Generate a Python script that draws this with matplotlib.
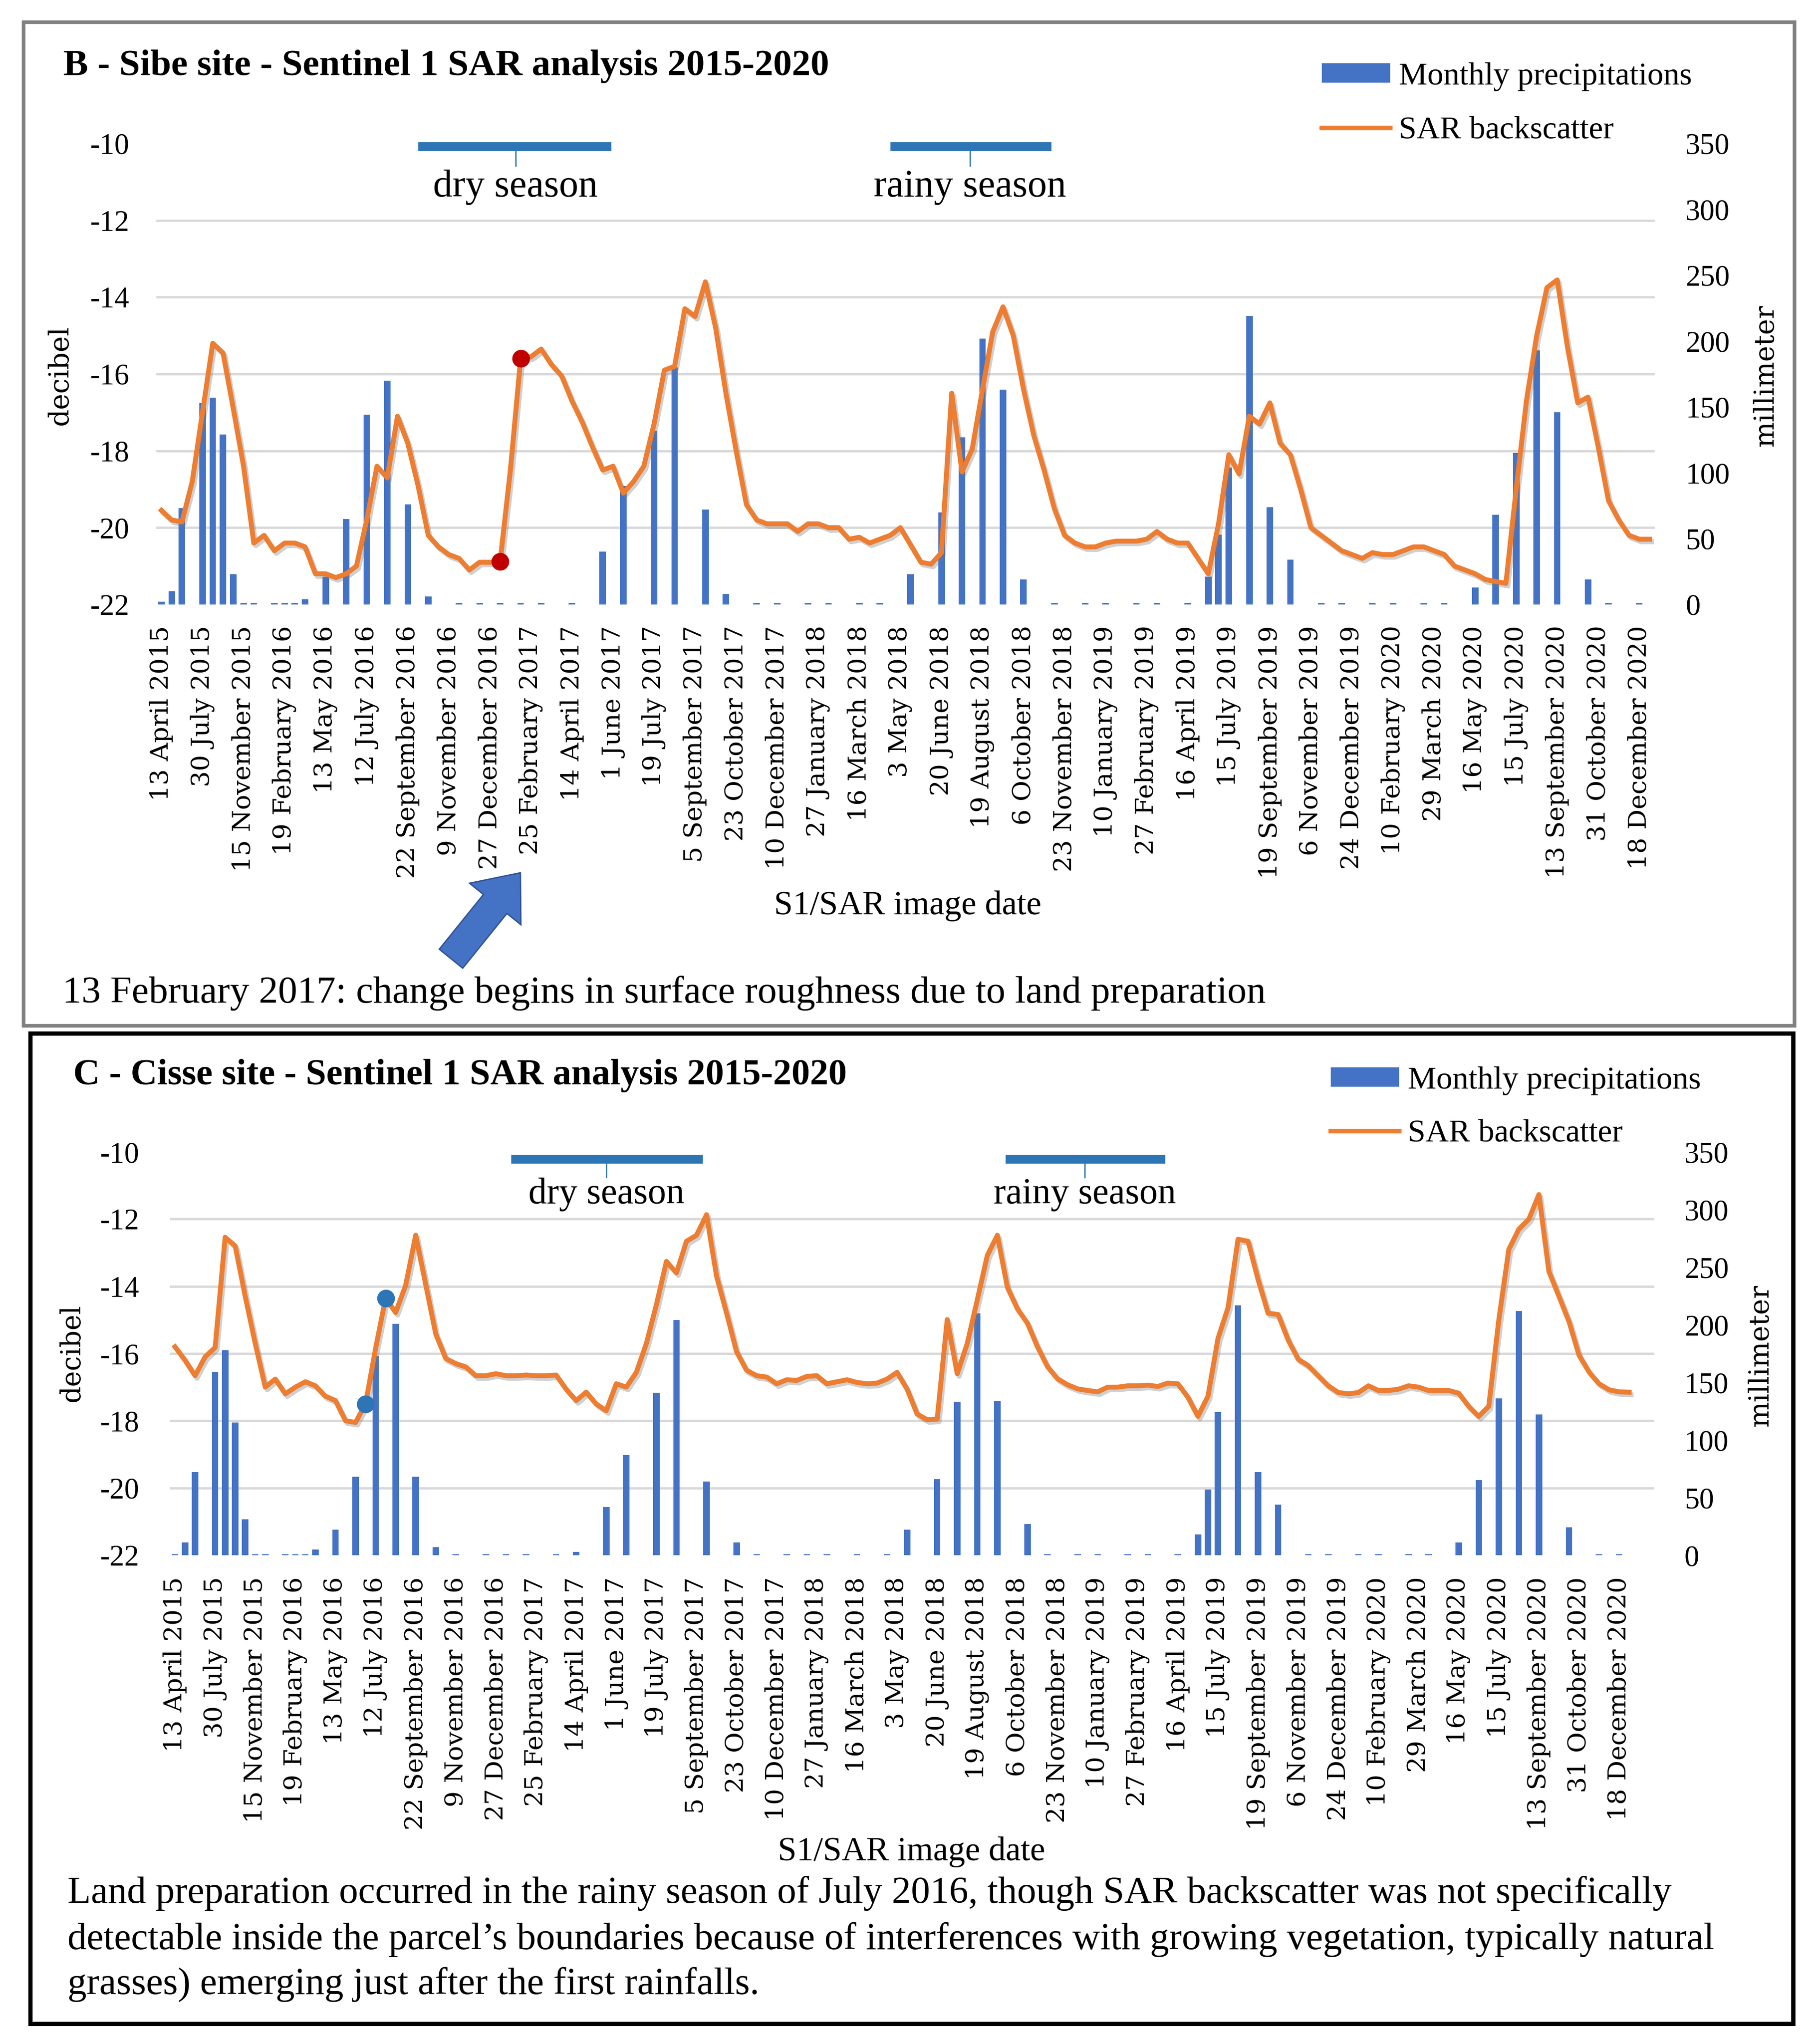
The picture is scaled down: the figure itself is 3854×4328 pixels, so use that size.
import matplotlib
matplotlib.use("Agg")
import matplotlib.pyplot as plt
import numpy as np
from matplotlib import patheffects as pe
from matplotlib.patches import Rectangle, FancyArrow, Patch
from matplotlib.lines import Line2D

W, H = 3855, 4328
DPI = 100

# ---------------- data ----------------
date_labels = ["13 April 2015", "30 July 2015", "15 November 2015", "19 February 2016",
               "13 May 2016", "12 July 2016", "22 September 2016", "9 November 2016",
               "27 December 2016", "25 February 2017", "14 April 2017", "1 June 2017",
               "19 July 2017", "5 September 2017", "23 October 2017", "10 December 2017",
               "27 January 2018", "16 March 2018", "3 May 2018", "20 June 2018",
               "19 August 2018", "6 October 2018", "23 November 2018", "10 January 2019",
               "27 February 2019", "16 April 2019", "15 July 2019", "19 September 2019",
               "6 November 2019", "24 December 2019", "10 February 2020", "29 March 2020",
               "16 May 2020", "15 July 2020", "13 September 2020", "31 October 2020",
               "18 December 2020"]
label_step = 4

# Panel B - Sibe site (SAR backscatter, dB, one value per S1 image)
b_sar = [-19.55, -19.8, -19.85, -18.8, -17.0, -15.2, -15.45, -16.9, -18.4, -20.4,
         -20.2, -20.6, -20.4, -20.4, -20.5, -21.2, -21.2, -21.3, -21.2, -21.0,
         -19.8, -18.4, -18.7, -17.1, -17.8, -18.9, -20.2, -20.5, -20.7, -20.8,
         -21.1, -20.9, -20.9, -20.88, -18.5, -15.6, -15.55, -15.35, -15.75, -16.05,
         -16.7, -17.25, -17.9, -18.5, -18.4, -19.1, -18.8, -18.4, -17.3, -15.9,
         -15.8, -14.3, -14.5, -13.6, -14.8, -16.5, -18.0, -19.4, -19.8, -19.9,
         -19.9, -19.9, -20.1, -19.9, -19.9, -20.0, -20.0, -20.3, -20.25, -20.4,
         -20.3, -20.2, -20.0, -20.45, -20.9, -20.95, -20.65, -16.5, -18.55, -17.95,
         -16.4, -14.9, -14.25, -15.0, -16.4, -17.6, -18.5, -19.5, -20.2, -20.4,
         -20.5, -20.5, -20.4, -20.35, -20.35, -20.35, -20.3, -20.1, -20.3, -20.4,
         -20.4, -20.8, -21.2, -19.9, -18.1, -18.6, -17.1, -17.3, -16.75, -17.8,
         -18.1, -19.0, -20.0, -20.2, -20.4, -20.6, -20.7, -20.8, -20.65, -20.7,
         -20.7, -20.6, -20.5, -20.5, -20.6, -20.7, -21.0, -21.1, -21.2, -21.35,
         -21.4, -21.45, -19.0, -16.7, -15.0, -13.75, -13.55, -15.3, -16.75, -16.6,
         -17.9, -19.3, -19.8, -20.2, -20.3, -20.3]
b_rain_idx = [0, 1, 2, 4, 5, 6, 7, 8, 9, 11, 12, 13, 14, 16, 18, 20, 22, 24, 26, 29,
              31, 33, 35, 37, 40, 43, 45, 48, 50, 53, 55, 58, 60, 63, 65, 68, 70, 73,
              76, 78, 80, 82, 84, 87, 90, 92, 95, 97, 100, 102, 103, 104, 106, 108, 110,
              113, 115, 118, 120, 123, 125, 128, 130, 132, 134, 136, 139, 141, 144]
b_rain_mm = [2, 10, 73, 153, 157, 129, 23, 1, 1, 1, 1, 1, 4, 21, 65, 144, 170, 76, 6, 1,
             1, 1, 1, 1, 1, 40, 90, 132, 180, 72, 8, 1, 1, 1, 1, 1, 1, 23,
             70, 127, 202, 163, 19, 1, 1, 1, 1, 1, 1, 21, 53, 104, 219, 74, 34,
             1, 1, 1, 1, 1, 1, 13, 68, 115, 193, 146, 19, 1, 1]
b_marker_idx = [33, 35]

# Panel C - Cisse site
c_sar = [-15.8, -16.2, -16.66, -16.1, -15.82, -12.54, -12.8, -14.3, -15.7, -17.0,
         -16.76, -17.2, -17.0, -16.84, -16.96, -17.27, -17.4, -18.0, -18.05, -17.5,
         -15.85, -14.35, -14.78, -13.97, -12.48, -13.95, -15.42, -16.15, -16.3, -16.4,
         -16.66, -16.66, -16.6, -16.66, -16.66, -16.64, -16.66, -16.66, -16.64, -17.06,
         -17.4, -17.15, -17.5, -17.7, -16.9, -17.0, -16.56, -15.7, -14.55, -13.26,
         -13.6, -12.66, -12.48, -11.87, -13.7, -14.8, -15.95, -16.5, -16.66, -16.7,
         -16.9, -16.78, -16.8, -16.68, -16.66, -16.9, -16.84, -16.78, -16.86, -16.9,
         -16.88, -16.76, -16.56, -17.06, -17.8, -17.97, -17.95, -14.99, -16.6, -15.7,
         -14.4, -13.08, -12.48, -14.03, -14.67, -15.1, -15.8, -16.39, -16.75, -16.93,
         -17.05, -17.1, -17.14, -17.0, -17.0, -16.96, -16.96, -16.94, -16.98, -16.88,
         -16.9, -17.3, -17.87, -17.27, -15.55, -14.64, -12.6, -12.66, -13.8, -14.8,
         -14.84, -15.6, -16.17, -16.36, -16.66, -16.96, -17.16, -17.2, -17.16, -16.96,
         -17.1, -17.1, -17.06, -16.96, -17.0, -17.1, -17.1, -17.1, -17.18, -17.57,
         -17.87, -17.57, -15.0, -12.9, -12.3, -12.0, -11.27, -13.56, -14.3, -15.05,
         -16.05, -16.55, -16.9, -17.08, -17.14, -17.15]
c_rain_idx = [0, 1, 2, 4, 5, 6, 7, 8, 9, 11, 12, 13, 14, 16, 18, 20, 22, 24, 26, 28,
              31, 33, 35, 38, 40, 43, 45, 48, 50, 53, 56, 58, 61, 63, 65, 68, 71, 73,
              76, 78, 80, 82, 85, 87, 90, 92, 95, 97, 100, 102, 103, 104, 106, 108, 110,
              113, 115, 118, 120, 123, 125, 128, 130, 132, 134, 136, 139, 142, 144]
c_rain_mm = [1, 11, 72, 159, 178, 115, 31, 1, 1, 1, 1, 1, 5, 22, 68, 173, 201, 68, 7, 1,
             1, 1, 1, 1, 3, 42, 87, 141, 204, 64, 11, 1, 1, 1, 1, 1, 1, 22,
             66, 133, 210, 134, 27, 1, 1, 1, 1, 1, 1, 18, 57, 124, 217, 72, 44,
             1, 1, 1, 1, 1, 1, 11, 65, 136, 212, 122, 24, 1, 1]
c_marker_idx = [19, 21]

db_ticks = [-22, -20, -18, -16, -14, -12, -10]
mm_ticks = [0, 50, 100, 150, 200, 250, 300, 350]
season_names = ["dry season", "rainy season"]
b_season_start, b_season_end, b_season_mid = [25.0, 71.0], [43.8, 86.7], [34.5, 78.8]
c_season_start, c_season_end, c_season_mid = [33.5, 82.8], [52.6, 98.7], [43.0, 90.7]

BLUE = '#4472C4'
ORANGE = '#ED7D31'
SEASON = '#2E75B6'
GRID = '#D9D9D9'
SERIF = ['Liberation Serif', 'DejaVu Serif']
WSERIF = ['DejaVu Serif']

fig = plt.figure(figsize=(W / DPI, H / DPI), dpi=DPI)
fig.patch.set_facecolor('white')


def px_rect(x0, y0, x1, y1):
    return [x0 / W, 1 - y1 / H, (x1 - x0) / W, (y1 - y0) / H]


def panel(rect, n_cat, sar, rain_idx, rain_mm, mk_idx, mk_color, s_start, s_end, s_mid,
          s_bar_y, s_tick, s_text_y, s_size, pads, legend_anchor, leg_size, leg_spacing):
    ax = fig.add_axes(rect)
    axd = ax.twinx()
    ax.yaxis.tick_right()
    axd.yaxis.tick_left()
    # bars (mm, right axis)
    ax.bar(rain_idx, rain_mm, width=0.64, color=BLUE, zorder=2)
    ax.set_ylim(0, 350)
    ax.set_xlim(-0.5, n_cat - 0.5)
    ax.set_yticks(mm_ticks)
    ax.set_yticklabels([str(v) for v in mm_ticks], fontfamily=SERIF, fontsize=45)
    grid_mm = [(v - db_ticks[0]) * 350.0 / (db_ticks[-1] - db_ticks[0]) for v in db_ticks]
    ax.set_yticks(grid_mm, minor=True)
    ax.grid(True, which='minor', axis='y', color=GRID, lw=3.5)
    ax.grid(False, which='major')
    ax.set_axisbelow(True)
    ax.set_xticks(list(range(0, len(date_labels) * label_step, label_step)))
    ax.set_xticklabels(date_labels, rotation=90, fontfamily=WSERIF, fontsize=38.5)
    ax.tick_params(axis='x', length=0, pad=pads[2])
    ax.tick_params(axis='y', which='both', length=0, pad=pads[1])
    # line (dB, left axis)
    x = list(range(len(sar)))
    axd.plot(x, sar, color=ORANGE, lw=7.5, solid_joinstyle='round', zorder=3,
             path_effects=[pe.SimpleLineShadow(offset=(3, -4), shadow_color='#7a7a7a', alpha=0.35),
                           pe.Normal()])
    axd.plot(mk_idx, [sar[i] for i in mk_idx], 'o', color=mk_color, ms=26, zorder=5)
    axd.set_ylim(db_ticks[0], db_ticks[-1])
    axd.set_yticks(db_ticks)
    axd.set_yticklabels([str(v) for v in db_ticks], fontfamily=SERIF, fontsize=45)
    axd.tick_params(axis='y', length=0, pad=pads[0])
    for a in (ax, axd):
        for sp in a.spines.values():
            sp.set_visible(False)
    # season brackets
    for name, s0, s1, m in zip(season_names, s_start, s_end, s_mid):
        axd.plot([s0, s1], [s_bar_y, s_bar_y], color=SEASON, lw=13.5, solid_capstyle='butt',
                 clip_on=False, zorder=6)
        axd.plot([m, m], [s_tick[0], s_tick[1]], color=SEASON, lw=2, clip_on=False, zorder=6)
        axd.text(m, s_text_y, name, ha='center', va='baseline', fontsize=s_size,
                 fontfamily=SERIF, color='black')
    handles = [Patch(facecolor=BLUE, edgecolor='none'),
               Line2D([], [], color=ORANGE, lw=7)]
    axd.legend(handles, ['Monthly precipitations', 'SAR backscatter'],
               loc='upper left', bbox_to_anchor=legend_anchor,
               bbox_transform=fig.transFigure, frameon=False,
               prop={'family': SERIF, 'size': leg_size}, handlelength=2.13,
               handleheight=0.55, handletextpad=0.26, labelspacing=leg_spacing,
               borderpad=0, borderaxespad=0)
    return ax, axd


# Panel B: axes 331..3504 x 304..1280
panel(px_rect(331, 304, 3504, 1280), 146, b_sar, b_rain_idx, b_rain_mm, b_marker_idx, '#C00000',
      b_season_start, b_season_end, b_season_mid, -10.07, (-10.2, -10.58), -11.38, 59,
      (41, 47, 32), (2799 / W, 1 - 132 / H), 49, 0.79)
# Panel C: axes 360..3503 x 2439..3293
panel(px_rect(360, 2439, 3503, 3293), 148, c_sar, c_rain_idx, c_rain_mm, c_marker_idx, '#2E75B6',
      c_season_start, c_season_end, c_season_mid, -10.21, (-10.35, -10.76), -11.53, 56,
      (47, 46, 33), (2818 / W, 1 - 2258 / H), 49, 0.76)

# ---------------- overlay (pixel coordinates) ----------------
ov = fig.add_axes([0, 0, 1, 1])
ov.set_xlim(0, W)
ov.set_ylim(H, 0)
ov.axis('off')
ov.patch.set_visible(False)
renderer = fig.canvas.get_renderer()


def fit_text(x, y, s, target_w, rotation=0, size0=40, **kw):
    t = ov.text(x, y, s, fontsize=size0, **kw)
    bb = t.get_window_extent(renderer)
    t.set_fontsize(size0 * target_w / bb.width)
    t.set_rotation(rotation)
    return t


ov.add_patch(Rectangle((50, 47), 3750, 2125, fill=False, ec='#808080', lw=5.5))
ov.add_patch(Rectangle((64, 2188), 3733, 2097, fill=False, ec='black', lw=6.5))

fit_text(134, 159, "B - Sibe site - Sentinel 1 SAR analysis 2015-2020", 1620,
         fontfamily=SERIF, fontweight='bold', ha='left', va='baseline')
fit_text(155, 2296, "C - Cisse site - Sentinel 1 SAR analysis 2015-2020", 1636,
         fontfamily=SERIF, fontweight='bold', ha='left', va='baseline')

fit_text(127, 795, "decibel", 211, rotation=90, fontfamily=WSERIF, ha='center', va='center')
fit_text(3739, 794, "millimeter", 300, rotation=90, fontfamily=WSERIF, ha='center', va='center')
fit_text(152, 2865, "decibel", 207, rotation=90, fontfamily=WSERIF, ha='center', va='center')
fit_text(3728, 2869, "millimeter", 300, rotation=90, fontfamily=WSERIF, ha='center', va='center')

fit_text(1922, 1936, "S1/SAR image date", 566, fontfamily=SERIF, ha='center', va='baseline')
fit_text(1930, 3939, "S1/SAR image date", 566, fontfamily=SERIF, ha='center', va='baseline')

fit_text(132, 2123, "13 February 2017: change begins in surface roughness due to land preparation",
         2545, fontfamily=SERIF, ha='left', va='baseline')

cap_lines = ["Land preparation occurred in the rainy season of July 2016, though SAR backscatter was not specifically",
             "detectable inside the parcel\u2019s boundaries because of interferences with growing vegetation, typically natural",
             "grasses) emerging just after the first rainfalls."]
cap_w = [3367, 3513, 1463]
cap_y = [4029, 4127, 4222]
sizes = []
for s, w in zip(cap_lines, cap_w):
    t = ov.text(0, 0, s, fontsize=40, fontfamily=SERIF)
    sizes.append(40 * w / t.get_window_extent(renderer).width)
    t.remove()
cs = float(np.mean(sizes))
for s, y in zip(cap_lines, cap_y):
    ov.text(143, y, s, fontsize=cs, fontfamily=SERIF, ha='left', va='baseline')

ov.add_patch(FancyArrow(955, 2030, 147, -182, width=64, head_width=140, head_length=85,
                        length_includes_head=True, fc='#4472C4', ec='#2F528F', lw=2))

fig.savefig("out.png", dpi=DPI, facecolor='white')
